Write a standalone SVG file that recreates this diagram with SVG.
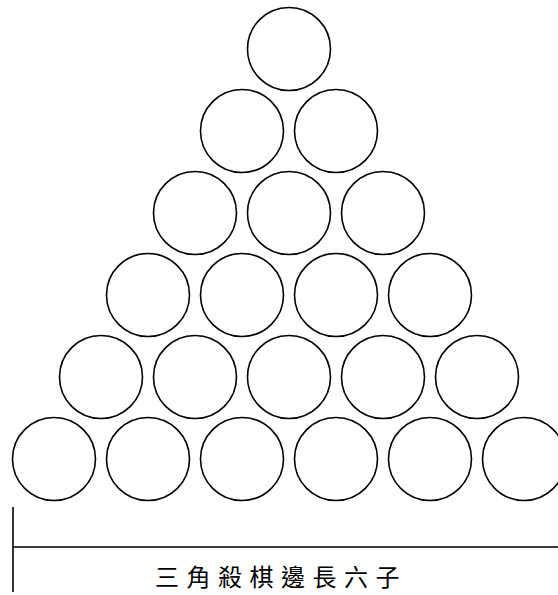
<svg xmlns="http://www.w3.org/2000/svg" width="558" height="595" viewBox="0 0 558 595">
<style>
.c{fill:#fff;stroke:#000;stroke-width:1.6}
.l{stroke:#000;stroke-width:1.6;fill:none}
.t{font-family:"Noto Sans CJK TC","Noto Sans CJK SC",serif;font-size:24px;fill:#000;letter-spacing:7.5px}
</style>
<rect width="558" height="595" fill="#fff"/>
<g id="row1"><circle class="c" cx="289" cy="49" r="41.5"/></g>
<g id="row2"><circle class="c" cx="242" cy="131" r="41.5"/><circle class="c" cx="336" cy="131" r="41.5"/></g>
<g id="row3"><circle class="c" cx="195" cy="213" r="41.5"/><circle class="c" cx="289" cy="213" r="41.5"/><circle class="c" cx="383" cy="213" r="41.5"/></g>
<g id="row4"><circle class="c" cx="148" cy="295" r="41.5"/><circle class="c" cx="242" cy="295" r="41.5"/><circle class="c" cx="336" cy="295" r="41.5"/><circle class="c" cx="430" cy="295" r="41.5"/></g>
<g id="row5"><circle class="c" cx="101" cy="377" r="41.5"/><circle class="c" cx="195" cy="377" r="41.5"/><circle class="c" cx="289" cy="377" r="41.5"/><circle class="c" cx="383" cy="377" r="41.5"/><circle class="c" cx="477" cy="377" r="41.5"/></g>
<g id="row6"><circle class="c" cx="54" cy="459" r="41.5"/><circle class="c" cx="148" cy="459" r="41.5"/><circle class="c" cx="242" cy="459" r="41.5"/><circle class="c" cx="336" cy="459" r="41.5"/><circle class="c" cx="430" cy="459" r="41.5"/><circle class="c" cx="524" cy="459" r="41.5"/></g>
<g id="measure">
<line class="l" x1="13" y1="507" x2="13" y2="592"/>
<line class="l" x1="13" y1="547" x2="558" y2="547"/>
<text class="t" x="155" y="586">三角殺棋邊長六子</text>
</g>
</svg>
